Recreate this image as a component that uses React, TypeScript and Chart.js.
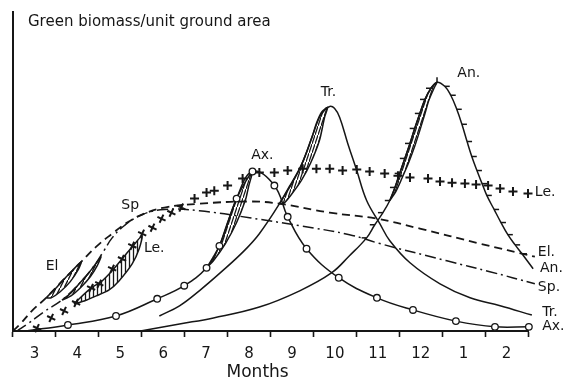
import React, { useEffect, useRef } from 'react';
import { Chart, registerables } from 'chart.js';

Chart.register(...registerables);

// x values: months elapsed since the start of March; y values: green biomass (arbitrary units)
const monthLabels = ['3', '4', '5', '6', '7', '8', '9', '10', '11', '12', '1', '2'];

const elX = [0, 0.19, 0.44, 0.77, 1.17, 1.59, 1.96, 2.31, 2.66, 3.01, 3.53, 4.34, 5.51, 6.21, 7.38, 8.48, 9.48, 10.88, 12.16];
const elY = [0, 2.5, 6.3, 10.4, 16.0, 21.7, 26.7, 30.5, 34.0, 36.5, 38.7, 39.9, 40.6, 39.9, 37.1, 35.2, 32.1, 27.4, 23.3];

const spX = [0.09, 0.37, 0.72, 1.14, 1.54, 1.89, 2.12, 2.31, 2.59, 3.01, 3.53, 4.34, 5.51, 6.68, 7.84, 8.55, 10.11, 11.11, 12.16];
const spY = [0, 2.5, 6.0, 9.7, 14.8, 20.4, 25.2, 29.2, 33.0, 36.5, 38.1, 37.7, 35.5, 33.0, 30.2, 27.4, 22.0, 18.6, 14.8];

const leX = [0.56, 0.89, 1.19, 1.47, 1.82, 2.01, 2.31, 2.54, 2.78, 3.01, 3.25, 3.46, 3.69, 3.92, 4.23, 4.51, 4.69, 5.0, 5.35, 5.74, 6.09, 6.4, 6.75, 7.07, 7.38, 7.68, 8.01, 8.31, 8.66, 8.97, 9.25, 9.67, 9.95, 10.23, 10.53, 10.79, 11.07, 11.35, 11.65, 12.0];
const leY = [0.9, 4.1, 6.3, 8.8, 13.5, 14.8, 19.5, 22.6, 26.7, 30.5, 32.4, 35.2, 37.1, 38.7, 41.5, 43.4, 44.0, 45.6, 47.8, 49.7, 49.7, 50.3, 50.9, 50.9, 50.9, 50.3, 50.6, 50.0, 49.4, 48.7, 48.1, 47.8, 46.9, 46.5, 46.2, 45.9, 45.6, 44.7, 43.7, 43.1];

const axX = [0.3, 1.28, 2.4, 3.36, 3.99, 4.51, 4.81, 5.21, 5.58, 6.09, 6.4, 6.84, 7.59, 8.48, 9.32, 10.32, 11.23, 12.02];
const axY = [0, 1.9, 4.7, 10.1, 14.2, 19.8, 26.7, 41.5, 50.0, 45.6, 35.8, 25.8, 16.7, 10.4, 6.6, 3.1, 1.3, 1.3];

const trX = [3.41, 3.88, 4.34, 4.86, 5.39, 5.74, 6.21, 6.68, 6.98, 7.14, 7.26, 7.38, 7.49, 7.61, 7.8, 8.01, 8.24, 8.55, 8.78, 9.25, 9.95, 10.65, 11.35, 12.09];
const trY = [4.7, 7.9, 12.6, 18.6, 25.2, 30.5, 39.9, 50.9, 61.3, 67.0, 69.2, 70.4, 69.8, 67.0, 58.8, 50.3, 40.9, 33.6, 28.3, 21.4, 14.8, 10.4, 7.9, 5.0];

const anX = [2.97, 3.88, 4.67, 5.74, 6.68, 7.42, 7.84, 8.24, 8.43, 8.62, 8.78, 8.9, 9.01, 9.13, 9.25, 9.36, 9.48, 9.6, 9.74, 9.88, 10.06, 10.2, 10.34, 10.46, 10.58, 10.69, 10.81, 10.93, 11.04, 11.21, 11.37, 11.53, 11.7, 11.86, 12.12];
const anY = [0, 2.2, 4.1, 7.5, 12.6, 18.2, 23.6, 29.2, 33.3, 37.1, 40.9, 45.0, 49.4, 54.1, 58.8, 63.5, 68.2, 72.6, 76.1, 78.0, 76.7, 73.9, 69.5, 64.8, 59.4, 54.7, 50.3, 46.2, 42.5, 38.1, 34.0, 30.2, 27.0, 24.2, 19.5];
const anTickFirst = 7;
const anPeak = 19;
const anTickLast = 33;

// hatched portions, closed outlines
const elBandX = [0.77, 0.96, 1.17, 1.38, 1.59, 1.52, 1.33, 1.1, 0.89, 0.77];
const elBandY = [10.4, 12.9, 16.0, 18.9, 21.7, 19.2, 15.4, 12.3, 10.4, 10.4];
const spBandX = [1.14, 1.35, 1.54, 1.73, 1.89, 2.05, 1.96, 1.8, 1.59, 1.35, 1.14];
const spBandY = [9.7, 11.9, 14.8, 17.6, 20.4, 23.3, 20.4, 17.0, 13.8, 11.0, 9.7];
const leBandX = [1.42, 1.82, 2.05, 2.31, 2.54, 2.78, 3.01, 2.94, 2.78, 2.47, 2.24, 1.94, 1.66, 1.42];
const leBandY = [8.5, 13.5, 15.4, 18.9, 22.6, 26.4, 29.9, 25.8, 21.1, 15.7, 12.9, 11.0, 9.4, 8.5];
const axBandX = [4.53, 4.67, 4.81, 5.0, 5.21, 5.39, 5.58, 5.49, 5.42, 5.21, 4.95, 4.67, 4.53];
const axBandY = [20.1, 23.3, 26.7, 34.0, 41.5, 46.2, 50.0, 45.3, 41.2, 34.0, 27.4, 22.0, 20.1];
const trBandX = [6.21, 6.44, 6.68, 6.84, 6.98, 7.07, 7.19, 7.33, 7.26, 7.14, 6.93, 6.72, 6.47, 6.3, 6.21];
const trBandY = [39.9, 45.3, 50.9, 56.0, 61.3, 65.1, 68.6, 70.1, 67.0, 59.7, 52.5, 47.2, 42.5, 39.9, 39.9];
const anBandX = [8.78, 8.9, 9.01, 9.13, 9.25, 9.36, 9.48, 9.6, 9.74, 9.88, 9.81, 9.69, 9.6, 9.48, 9.36, 9.22, 9.06, 8.92, 8.78];
const anBandY = [40.9, 45.0, 49.4, 54.1, 58.8, 63.5, 68.2, 72.6, 76.1, 78.0, 76.1, 72.3, 68.2, 62.9, 57.9, 52.8, 47.8, 43.7, 40.9];

const titleText = 'Green biomass/unit ground area';
const axisTitle = 'Months';

const curveLabels = [
  { text: 'El', x: 0.91, y: 20.4, align: 'center' },
  { text: 'Sp', x: 2.73, y: 39.3, align: 'center' },
  { text: 'Le.', x: 3.29, y: 25.8, align: 'center' },
  { text: 'Ax.', x: 5.81, y: 55.0, align: 'center' },
  { text: 'Tr.', x: 7.35, y: 74.8, align: 'center' },
  { text: 'An.', x: 10.62, y: 80.8, align: 'center' },
  { text: 'Le.', x: 12.16, y: 43.4, align: 'left' },
  { text: 'El.', x: 12.23, y: 24.8, align: 'left' },
  { text: 'An.', x: 12.28, y: 19.5, align: 'left' },
  { text: 'Sp.', x: 12.23, y: 13.8, align: 'left' },
  { text: 'Tr.', x: 12.33, y: 6.0, align: 'left' },
  { text: 'Ax.', x: 12.33, y: 1.6, align: 'left' },
];

const INK = '#161616';
const FONT = '"DejaVu Sans", sans-serif';

const pts = (xs: number[], ys: number[]) => xs.map((x, i) => ({ x, y: ys[i] }));

function makeHatch(ctx: CanvasRenderingContext2D, kind: string) {
  const c = document.createElement('canvas');
  const g = c.getContext('2d')!;
  if (kind === 'vertical') {
    c.width = 4; c.height = 4;
    g.strokeStyle = INK; g.lineWidth = 1.3;
    g.beginPath(); g.moveTo(1.5, 0); g.lineTo(1.5, 4); g.stroke();
  } else if (kind === 'steep') {
    c.width = 3; c.height = 9;
    g.strokeStyle = INK; g.lineWidth = 1.2;
    g.beginPath(); g.moveTo(-0.5, 10.5); g.lineTo(3.5, -1.5); g.stroke();
  } else {
    c.width = 4; c.height = 8;
    g.strokeStyle = INK; g.lineWidth = 1.3;
    g.beginPath(); g.moveTo(-0.5, 9); g.lineTo(4.5, -1); g.stroke();
  }
  return ctx.createPattern(c, 'repeat');
}

const textPlugin = {
  id: 'figureTexts',
  afterDatasetsDraw(chart: any) {
    const { ctx, chartArea } = chart;
    const xs = chart.scales.x;
    const ys = chart.scales.y;
    ctx.save();
    ctx.fillStyle = INK;
    ctx.textBaseline = 'middle';
    ctx.textAlign = 'left';
    ctx.font = `15px ${FONT}`;
    ctx.fillText(titleText, chartArea.left + 15, chartArea.top + 10);
    ctx.font = `14px ${FONT}`;
    for (const l of curveLabels) {
      ctx.textAlign = l.align;
      ctx.fillText(l.text, xs.getPixelForValue(l.x), ys.getPixelForValue(l.y));
    }
    ctx.textAlign = 'center';
    ctx.font = `17px ${FONT}`;
    ctx.fillText(axisTitle, xs.getPixelForValue(5.7), chartArea.bottom + 42);
    ctx.restore();
  },
};

export default function App() {
  const ref = useRef<HTMLCanvasElement | null>(null);

  useEffect(() => {
    const canvas = ref.current!;
    const ctx = canvas.getContext('2d')!;
    const slant = makeHatch(ctx, 'slant');
    const steep = makeHatch(ctx, 'steep');
    const vert = makeHatch(ctx, 'vertical');

    const band = (xs: number[], ys: number[], pattern: any) => ({
      data: pts(xs, ys),
      borderColor: INK,
      borderWidth: 1.5,
      backgroundColor: pattern,
      fill: 'shape',
      pointRadius: 0,
      tension: 0.25,
      clip: false,
      order: 10,
    });

    const chart = new Chart(canvas, {
      type: 'line',
      data: {
        datasets: [
          {
            label: 'Ax.',
            data: pts(axX, axY),
            borderColor: INK,
            borderWidth: 1.5,
            tension: 0.4,
            pointStyle: 'circle',
            pointRadius: (c: any) => (c.dataIndex === 0 ? 0 : 3.3),
            pointBackgroundColor: '#ffffff',
            pointBorderColor: INK,
            pointBorderWidth: 1.3,
            clip: false,
            order: 1,
          },
          {
            label: 'Le.',
            data: pts(leX, leY),
            showLine: false,
            pointStyle: 'cross',
            pointRadius: 4.5,
            pointBorderWidth: 2,
            pointBorderColor: INK,
            pointRotation: (c: any) => (c.dataIndex < 14 ? 25 : 0),
            clip: false,
            order: 2,
          },
          {
            label: 'An.',
            data: pts(anX, anY),
            borderColor: INK,
            borderWidth: 1.5,
            tension: 0.4,
            pointStyle: 'dash',
            pointRadius: (c: any) => (c.dataIndex >= anTickFirst && c.dataIndex <= anTickLast ? 5 : 0),
            pointRotation: (c: any) => (c.dataIndex < anPeak ? 180 : c.dataIndex === anPeak ? 270 : 0),
            pointBorderColor: INK,
            pointBorderWidth: 1.5,
            clip: false,
            order: 3,
          },
          {
            label: 'Tr.',
            data: pts(trX, trY),
            borderColor: INK,
            borderWidth: 1.5,
            tension: 0.4,
            pointRadius: 0,
            clip: false,
            order: 3,
          },
          {
            label: 'El.',
            data: pts(elX, elY),
            borderColor: INK,
            borderWidth: 1.8,
            borderDash: [8, 5],
            tension: 0.4,
            pointRadius: 0,
            clip: false,
            order: 4,
          },
          {
            label: 'Sp.',
            data: pts(spX, spY),
            borderColor: INK,
            borderWidth: 1.5,
            borderDash: [11, 4, 2, 4],
            tension: 0.4,
            pointRadius: 0,
            clip: false,
            order: 4,
          },
          band(elBandX, elBandY, slant),
          band(spBandX, spBandY, slant),
          band(leBandX, leBandY, vert),
          band(axBandX, axBandY, steep),
          band(trBandX, trBandY, steep),
          band(anBandX, anBandY, steep),
        ] as any,
      },
      options: {
        animation: false,
        responsive: true,
        maintainAspectRatio: false,
        layout: { padding: { left: 13, right: 41, top: 12, bottom: 11 } },
        plugins: { legend: { display: false }, tooltip: { enabled: false } },
        scales: {
          x: {
            type: 'linear',
            min: 0,
            max: 12,
            afterBuildTicks: (s: any) => {
              s.ticks = monthLabels.map((_, i) => ({ value: i + 0.5 }));
            },
            ticks: {
              callback: (_v: any, i: number) => monthLabels[i],
              font: { family: FONT, size: 15 },
              color: INK,
              padding: 8,
              maxRotation: 0,
              autoSkip: false,
            },
            grid: {
              offset: true,
              drawOnChartArea: false,
              drawTicks: true,
              tickLength: 6,
              tickWidth: 1.6,
              tickColor: INK,
            },
            border: { display: true, color: INK, width: 2 },
          },
          y: {
            type: 'linear',
            min: 0,
            max: 100,
            ticks: { display: false },
            grid: { display: false, drawTicks: false },
            border: { display: true, color: INK, width: 2 },
          },
        },
      } as any,
      plugins: [textPlugin],
    });
    return () => chart.destroy();
  }, []);

  return (
    <div style={{ position: 'fixed', left: 0, top: 0, width: 569, height: 382, background: '#ffffff' }}>
      <canvas ref={ref} />
    </div>
  );
}
